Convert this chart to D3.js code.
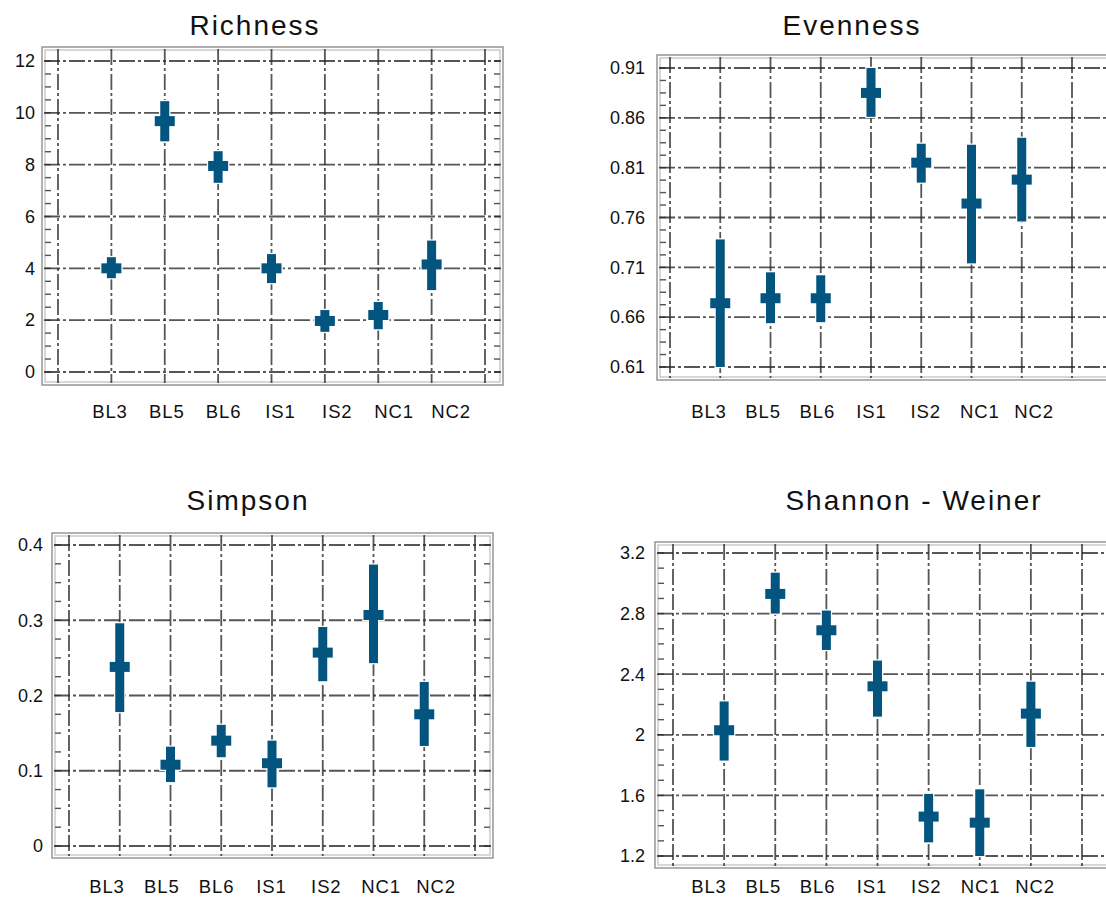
<!DOCTYPE html>
<html>
<head>
<meta charset="utf-8">
<title>Diversity indices</title>
<script src="https://cdn.jsdelivr.net/npm/d3@7"></script>
<style>
  body { margin: 0; background: #fff; }
  svg { display: block; }
  text { font-family: "Liberation Sans", Arial, sans-serif; fill: #111; }
  .title { font-size: 28px; letter-spacing: 2px; }
  .tick { font-size: 18px; }
  .cat { font-size: 18.5px; letter-spacing: 0.9px; }
</style>
</head>
<body>
<svg id="chart" width="1106" height="898"></svg>
<script>
// data
var categories = ["BL3", "BL5", "BL6", "IS1", "IS2", "NC1", "NC2"];

var richnessMean = [4.0, 9.68, 7.95, 4.0, 1.97, 2.2, 4.15];
var richnessLow  = [3.62, 8.9, 7.3, 3.43, 1.55, 1.65, 3.16];
var richnessHigh = [4.43, 10.45, 8.52, 4.55, 2.39, 2.7, 5.07];
var richnessTicks = [0, 2, 4, 6, 8, 10, 12];

var evennessMean = [0.674, 0.679, 0.679, 0.885, 0.815, 0.774, 0.798];
var evennessLow  = [0.61, 0.654, 0.655, 0.861, 0.795, 0.714, 0.756];
var evennessHigh = [0.738, 0.705, 0.702, 0.91, 0.834, 0.833, 0.84];
var evennessTicks = [0.61, 0.66, 0.71, 0.76, 0.81, 0.86, 0.91];

var simpsonMean = [0.238, 0.108, 0.14, 0.11, 0.257, 0.307, 0.175];
var simpsonLow  = [0.178, 0.085, 0.118, 0.078, 0.219, 0.243, 0.133];
var simpsonHigh = [0.296, 0.132, 0.161, 0.14, 0.291, 0.374, 0.218];
var simpsonTicks = [0, 0.1, 0.2, 0.3, 0.4];

var shannonMean = [2.03, 2.93, 2.69, 2.32, 1.46, 1.42, 2.14];
var shannonLow  = [1.83, 2.8, 2.56, 2.12, 1.29, 1.2, 1.92];
var shannonHigh = [2.22, 3.07, 2.82, 2.49, 1.61, 1.64, 2.35];
var shannonTicks = [1.2, 1.6, 2, 2.4, 2.8, 3.2];

var svg = d3.select("#chart");
var barColor = "#03557f";

// soft blur so the grid looks like the scanned original
var defs = svg.append("defs");
defs.append("filter").attr("id", "soft")
  .append("feGaussianBlur").attr("stdDeviation", 0.5);

function panel(cfg) {
  var g = svg.append("g");
  var y = d3.scaleLinear().domain(cfg.yDomain).range(cfg.yRange);
  var x = d3.scaleLinear().domain([0, 8]).range(cfg.xRange);
  var labelX = d3.scalePoint().domain(categories).range(cfg.labelRange);

  var grid = g.append("g").attr("filter", "url(#soft)");

  // frame (double light line)
  grid.append("rect")
    .attr("x", cfg.frame[0]).attr("y", cfg.frame[1])
    .attr("width", cfg.frame[2] - cfg.frame[0]).attr("height", cfg.frame[3] - cfg.frame[1])
    .attr("fill", "none").attr("stroke", "#8f8f8f").attr("stroke-width", 1.4);
  grid.append("rect")
    .attr("x", cfg.frame[0] + 3).attr("y", cfg.frame[1] + 3)
    .attr("width", cfg.frame[2] - cfg.frame[0] - 6).attr("height", cfg.frame[3] - cfg.frame[1] - 6)
    .attr("fill", "none").attr("stroke", "#bdbdbd").attr("stroke-width", 1.2);

  // minor ticks along left and right edges
  var step = (cfg.yTicks[1] - cfg.yTicks[0]) / 4;
  var minor = d3.range(0, (cfg.yTicks.length - 1) * 4 + 1).map(function (i) { return cfg.yTicks[0] + i * step; });
  grid.selectAll(".mtl").data(minor).enter().append("line")
    .attr("x1", cfg.frame[0] + 3).attr("x2", cfg.frame[0] + 9)
    .attr("y1", function (d) { return y(d); }).attr("y2", function (d) { return y(d); })
    .attr("stroke", "#555").attr("stroke-width", 1.4);
  grid.selectAll(".mtr").data(minor).enter().append("line")
    .attr("x1", cfg.frame[2] - 9).attr("x2", cfg.frame[2] - 3)
    .attr("y1", function (d) { return y(d); }).attr("y2", function (d) { return y(d); })
    .attr("stroke", "#555").attr("stroke-width", 1.4);

  // horizontal grid
  grid.selectAll(".hg").data(cfg.yTicks).enter().append("line")
    .attr("x1", cfg.frame[0] + 2).attr("x2", cfg.frame[2] - 2)
    .attr("y1", function (d) { return y(d); }).attr("y2", function (d) { return y(d); })
    .attr("stroke", "#2a2a2a").attr("stroke-width", 1.8).attr("stroke-opacity", 0.8)
    .attr("stroke-dasharray", "16,3,3,3");

  // vertical grid
  grid.selectAll(".vg").data(d3.range(0, 9)).enter().append("line")
    .attr("x1", function (d) { return x(d); }).attr("x2", function (d) { return x(d); })
    .attr("y1", cfg.frame[1] + 2).attr("y2", cfg.frame[3] - 2)
    .attr("stroke", "#2a2a2a").attr("stroke-width", 1.8).attr("stroke-opacity", 0.8)
    .attr("stroke-dasharray", "16,3,3,3");

  // y tick labels
  g.selectAll(".tick").data(cfg.yTicks).enter().append("text")
    .attr("class", "tick")
    .attr("x", cfg.tickRight).attr("y", function (d) { return y(d); })
    .attr("dy", "0.35em").attr("text-anchor", "end")
    .text(function (d) { return String(d); });

  // category labels
  g.selectAll(".cat").data(categories).enter().append("text")
    .attr("class", "cat")
    .attr("x", function (d) { return labelX(d); }).attr("y", cfg.labelY)
    .attr("text-anchor", "middle")
    .text(function (d) { return d; });

  // title
  g.append("text").attr("class", "title")
    .attr("x", cfg.titleX).attr("y", cfg.titleY)
    .attr("text-anchor", "middle")
    .text(cfg.title);

  // error bars with mean markers
  var rows = categories.map(function (c, i) {
    return { i: i + 1, mean: cfg.mean[i], low: cfg.low[i], high: cfg.high[i] };
  });
  var bw = 9, mw = 20, mh = 10;
  [{ stroke: "#fff", sw: 2.5 }, { stroke: "none", sw: 0 }].forEach(function (layer) {
    var m = g.append("g");
    m.selectAll(".bar").data(rows).enter().append("rect")
      .attr("x", function (d) { return x(d.i) - bw / 2; })
      .attr("y", function (d) { return y(d.high); })
      .attr("width", bw)
      .attr("height", function (d) { return y(d.low) - y(d.high); })
      .attr("fill", barColor).attr("stroke", layer.stroke).attr("stroke-width", layer.sw);
    m.selectAll(".mk").data(rows).enter().append("rect")
      .attr("x", function (d) { return x(d.i) - mw / 2; })
      .attr("y", function (d) { return y(d.mean) - mh / 2; })
      .attr("width", mw).attr("height", mh)
      .attr("fill", barColor).attr("stroke", layer.stroke).attr("stroke-width", layer.sw);
  });
}

panel({
  title: "Richness", titleX: 255, titleY: 35,
  mean: richnessMean, low: richnessLow, high: richnessHigh, yTicks: richnessTicks,
  yDomain: [0, 12], yRange: [372, 61], xRange: [58, 485],
  frame: [42, 47, 503, 385], tickRight: 35,
  labelRange: [110, 451], labelY: 418
});

panel({
  title: "Evenness", titleX: 852, titleY: 35,
  mean: evennessMean, low: evennessLow, high: evennessHigh, yTicks: evennessTicks,
  yDomain: [0.61, 0.91], yRange: [367, 68], xRange: [670, 1072],
  frame: [657, 55, 1116, 380], tickRight: 645,
  labelRange: [709, 1034], labelY: 418
});

panel({
  title: "Simpson", titleX: 248, titleY: 510,
  mean: simpsonMean, low: simpsonLow, high: simpsonHigh, yTicks: simpsonTicks,
  yDomain: [0, 0.4], yRange: [846, 545], xRange: [69, 475],
  frame: [52, 533, 493, 858], tickRight: 43,
  labelRange: [107, 436], labelY: 893
});

panel({
  title: "Shannon - Weiner", titleX: 914, titleY: 510,
  mean: shannonMean, low: shannonLow, high: shannonHigh, yTicks: shannonTicks,
  yDomain: [1.2, 3.2], yRange: [856, 553], xRange: [673, 1082],
  frame: [655, 542, 1116, 868], tickRight: 645,
  labelRange: [709, 1035], labelY: 893
});
</script>
</body>
</html>
